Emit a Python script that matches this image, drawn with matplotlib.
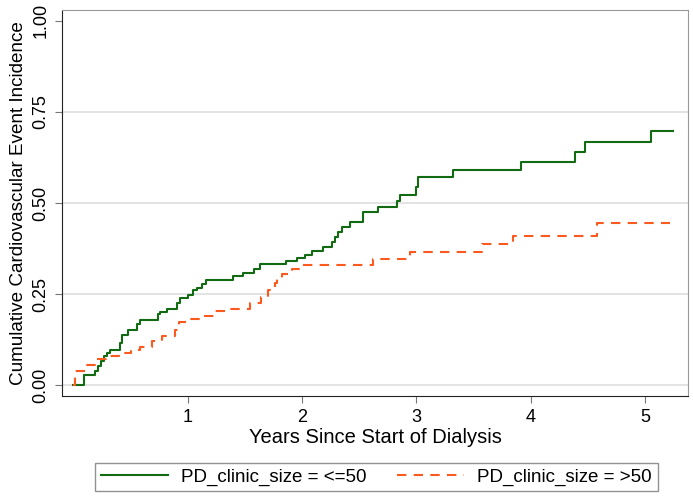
import matplotlib
matplotlib.use('Agg')
import matplotlib.pyplot as plt

plt.rcParams['font.family'] = ['Liberation Sans', 'DejaVu Sans']

# step times (years) and cumulative incidence for each group
small_t = [0, 0.092, 0.188, 0.214, 0.241, 0.267, 0.293, 0.319, 0.407, 0.424, 0.477,
           0.556, 0.582, 0.739, 0.757, 0.818, 0.906, 0.932, 1.002, 1.045, 1.08,
           1.124, 1.159, 1.395, 1.483, 1.579, 1.632, 1.859, 1.955, 2.025, 2.087,
           2.183, 2.262, 2.288, 2.314, 2.349, 2.419, 2.533, 2.664, 2.83, 2.857,
           2.997, 3.014, 3.32, 3.915, 4.388, 4.475, 5.052, 5.245]
small_y = [0, 0.027, 0.038, 0.052, 0.066, 0.080, 0.088, 0.096, 0.116, 0.137, 0.150,
           0.168, 0.179, 0.195, 0.200, 0.210, 0.225, 0.239, 0.247, 0.260, 0.267,
           0.277, 0.288, 0.300, 0.308, 0.319, 0.332, 0.341, 0.349, 0.357, 0.369,
           0.379, 0.393, 0.407, 0.420, 0.434, 0.448, 0.475, 0.490, 0.505, 0.522,
           0.545, 0.571, 0.591, 0.613, 0.641, 0.667, 0.699, 0.699]

large_t = [0, 0.013, 0.109, 0.206, 0.284, 0.398, 0.503, 0.582, 0.687, 0.774, 0.888,
           0.923, 1.002, 1.133, 1.229, 1.343, 1.544, 1.640, 1.702, 1.763, 1.781,
           1.824, 1.912, 2.008, 2.621, 2.945, 3.575, 3.845, 4.580, 5.219]
large_y = [0, 0.039, 0.055, 0.071, 0.080, 0.088, 0.096, 0.104, 0.122, 0.135, 0.151,
           0.173, 0.181, 0.190, 0.203, 0.210, 0.225, 0.242, 0.261, 0.280, 0.294,
           0.305, 0.319, 0.330, 0.346, 0.366, 0.387, 0.409, 0.445, 0.445]

yticks = [0, 0.25, 0.5, 0.75, 1.0]
yticklabels = ['0.00', '0.25', '0.50', '0.75', '1.00']
xticks = [1, 2, 3, 4, 5]

green = '#126b12'
orange = '#fa5a1e'

fig = plt.figure(figsize=(6.93, 4.98), dpi=100)
ax = fig.add_axes([0.0895, 0.2048, 0.9033, 0.7752])

for g in yticks[:-1]:
    ax.axhline(g, color='#e3e3e3', lw=1.4, zorder=0)

ax.step(small_t, small_y, where='post', color=green, lw=1.5,
        label='PD_clinic_size = <=50')
ax.step(large_t, large_y, where='post', color=orange, lw=1.5,
        dashes=(4.5, 3.5), label='PD_clinic_size = >50')

ax.set_xlim(-0.1, 5.376)
ax.set_ylim(-0.03, 1.03)
ax.set_yticks(yticks)
ax.set_yticklabels(yticklabels, rotation=90, va='center')
ax.set_xticks(xticks)
ax.tick_params(axis='both', labelsize=13, length=5, color='#777777', pad=4)

for side in ['left', 'bottom']:
    ax.spines[side].set_color('#222222')
for side in ['top', 'right']:
    ax.spines[side].set_color('#999999')

ax.set_xlabel('Years Since Start of Dialysis', fontsize=14.5, labelpad=2)
ax.set_ylabel('Cumulative Cardiovascular Event Incidence', fontsize=13.6, labelpad=4)

fig.legend(loc='lower center', bbox_to_anchor=(0.543, 0.0), ncol=2,
           fontsize=13.5, frameon=True, fancybox=False, edgecolor='#777777',
           handlelength=3.6, handletextpad=0.7, columnspacing=1.6,
           borderpad=0.3, borderaxespad=0.35)

fig.savefig('out.png', dpi=100)
